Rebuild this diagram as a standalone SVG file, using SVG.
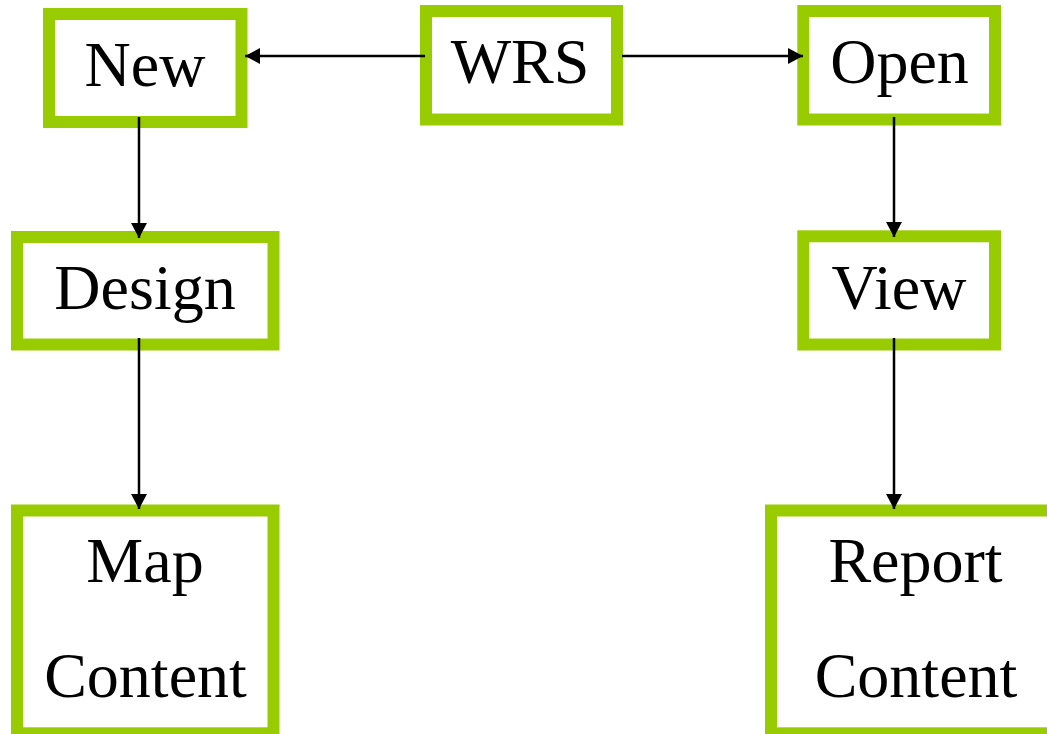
<svg xmlns="http://www.w3.org/2000/svg" width="1047" height="734" viewBox="0 0 1047 734">
<style>
.box{fill:#fff;stroke:#99CC00;stroke-width:12}
.lbl{font-family:"Liberation Serif","Times New Roman",serif;font-size:64px;fill:#000;text-anchor:middle}
.edge{stroke:#000;stroke-width:2.5;fill:none;marker-end:url(#ah)}
</style>
<defs>
<marker id="ah" markerUnits="userSpaceOnUse" markerWidth="16" markerHeight="16" refX="15" refY="8" orient="auto" viewBox="0 0 16 16">
<path d="M0,0 L15,8 L0,16 Z" fill="#000"/>
</marker>
</defs>
<rect width="1047" height="734" fill="#fff"/>
<g id="node-new">
<rect class="box" x="49" y="14" width="192.5" height="108"/>
<text class="lbl" x="145" y="86">New</text>
</g>
<g id="node-wrs">
<rect class="box" x="426" y="11" width="191" height="108.5"/>
<text class="lbl" x="520" y="83">WRS</text>
</g>
<g id="node-open">
<rect class="box" x="803.3" y="11" width="191.7" height="108.5"/>
<text class="lbl" x="899.5" y="83">Open</text>
</g>
<g id="node-design">
<rect class="box" x="17" y="237" width="256.5" height="107.5"/>
<text class="lbl" x="145" y="309">Design</text>
</g>
<g id="node-view">
<rect class="box" x="803.3" y="236.3" width="191.7" height="108.2"/>
<text class="lbl" x="899" y="309">View</text>
</g>
<g id="node-map-content">
<rect class="box" x="17" y="510.5" width="256.5" height="222.8"/>
<text class="lbl" x="145" y="581.5">Map</text>
<text class="lbl" x="145.5" y="696.5">Content</text>
</g>
<g id="node-report-content">
<rect class="box" x="771" y="510.5" width="290" height="222.8"/>
<text class="lbl" x="915.5" y="581.5">Report</text>
<text class="lbl" x="916" y="696.5">Content</text>
</g>
<g id="connectors">
<line class="edge" x1="425" y1="56" x2="245" y2="56"/>
<line class="edge" x1="622" y1="56" x2="803" y2="56"/>
<line class="edge" x1="139" y1="117" x2="139" y2="238"/>
<line class="edge" x1="894" y1="117" x2="894" y2="237"/>
<line class="edge" x1="139" y1="338" x2="139" y2="509"/>
<line class="edge" x1="894" y1="338" x2="894" y2="509"/>
</g>
</svg>
